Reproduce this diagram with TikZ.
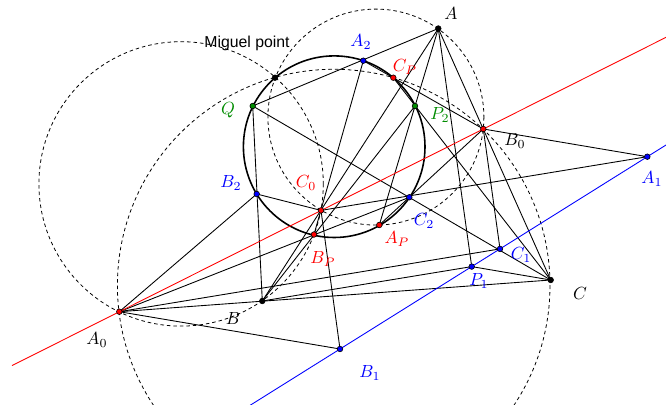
\documentclass[tikz,border=0pt]{standalone}
\usepackage{fontspec}
\newfontfamily\miqfont{Liberation Sans}
\definecolor{ptgreen}{RGB}{0,140,0}

\begin{document}
\begin{tikzpicture}[x=0.02cm,y=-0.02cm,line width=.5pt]
  \tikzset{
    dashcirc/.style={dash pattern=on 2pt off 1.7pt,line width=.45pt},
    dot/.style={draw=black,line width=.35pt},
    lab/.style={inner sep=0pt}
  }
  \useasboundingbox (0,0) rectangle (666,405);
  \clip (0,0) rectangle (666,405);
  \coordinate (A) at (438.3,28.5);
  \coordinate (B) at (262.3,301);
  \coordinate (C) at (550.7,280);
  \coordinate (A0) at (119.3,311.7);
  \coordinate (B0) at (483.3,129);
  \coordinate (C0) at (321,210.4);
  \coordinate (A1) at (647.3,156.7);
  \coordinate (B1) at (340,349);
  \coordinate (C1) at (500,248.9);
  \coordinate (P1) at (471.7,266.6);
  \coordinate (A2) at (363.3,60.7);
  \coordinate (B2) at (256.7,194);
  \coordinate (C2) at (409.3,197.3);
  \coordinate (AP) at (379.3,225);
  \coordinate (BP) at (314,234.5);
  \coordinate (CP) at (393.3,77.7);
  \coordinate (Q) at (252.7,106);
  \coordinate (P2) at (415,106);
  \coordinate (M) at (275,77.7);
  \coordinate (rl1) at (12,365.6);
  \coordinate (rl2) at (690,25.3);
  \coordinate (bl1) at (245,408.5);
  \coordinate (bl2) at (690,130);

  \draw[dashcirc] (181.1,183.9) circle (142.2);
  \draw[dashcirc] (375.9,117.1) circle (108);
  \draw[dashcirc] (333.7,285.6) circle (216.3);
  \draw[line width=.9pt] (334.2,146.7) circle (90.8);

  \draw (A0) -- (C) (A) -- (B) (A) -- (C);
  \draw (Q) -- (A) (Q) -- (B) (Q) -- (C);
  \draw (A) -- (AP) (B) -- (P2) (C) -- (CP);
  \draw (P1) -- (A) (P1) -- (B) (P1) -- (C);
  \draw (B0) -- (A1) (C0) -- (A1) (A0) -- (B1) (C0) -- (B1) (A0) -- (C1) (B0) -- (C1);
  \draw (A0) -- (B2) (A0) -- (C2) (B0) -- (A2) (B0) -- (AP) (A2) -- (BP) (B2) -- (C0);
  \draw[red] (rl1) -- (rl2);
  \draw[blue] (bl1) -- (bl2);

  \foreach \p in {A,B,C,M} \filldraw[dot,fill=black] (\p) circle (2.8);
  \foreach \p in {A0,B0,C0,AP,BP,CP} \filldraw[dot,fill=red] (\p) circle (2.8);
  \foreach \p in {A1,B1,C1,P1,A2,B2,C2} \filldraw[dot,fill=blue] (\p) circle (2.8);
  \foreach \p in {Q,P2} \filldraw[dot,fill=ptgreen] (\p) circle (2.8);

  \node[lab] (lA) at (451,13) {$A$};
  \node[lab] (lB) at (233,318) {$B$};
  \node[lab] (lC) at (580,293) {$C$};
  \node[lab] (lA0) at (97,340) {$A_0$};
  \node[lab] (lB0) at (515,141) {$B_0$};
  \node[lab,text=red] (lC0) at (306,183) {$C_0$};
  \node[lab,text=blue] (lA1) at (652,179) {$A_1$};
  \node[lab,text=blue] (lB1) at (370,373) {$B_1$};
  \node[lab,text=blue] (lC1) at (521,255) {$C_1$};
  \node[lab,text=blue] (lP1) at (479,281) {$P_1$};
  \node[lab,text=blue] (lA2) at (361,42) {$A_2$};
  \node[lab,text=blue] (lB2) at (231,183) {$B_2$};
  \node[lab,text=blue] (lC2) at (424,221) {$C_2$};
  \node[lab,text=red] (lAP) at (397,239) {$A_P$};
  \node[lab,text=red] (lBP) at (323,259) {$B_P$};
  \node[lab,text=red] (lCP) at (405,67) {$C_P$};
  \node[lab,text=ptgreen] (lQ) at (228,110) {$Q$};
  \node[lab,text=ptgreen] (lP2) at (440,115) {$P_2$};
  \node[lab,font=\miqfont\fontsize{9}{10}\selectfont] (lM) at (247,43) {Miguel point};
\end{tikzpicture}
\end{document}
